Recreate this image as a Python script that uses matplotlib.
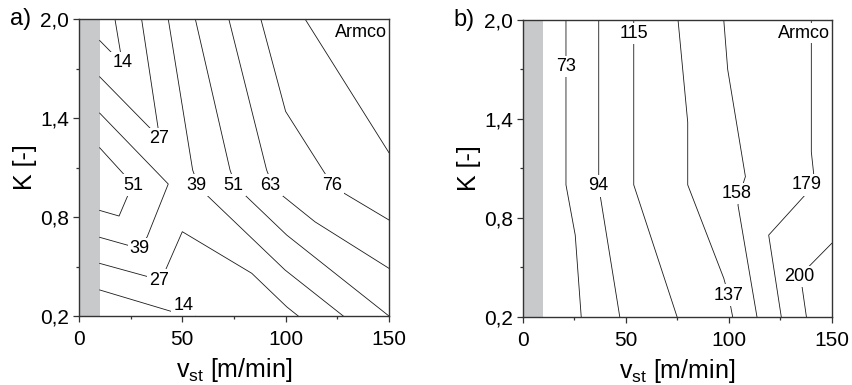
import matplotlib.pyplot as plt
import matplotlib as mpl

mpl.rcParams['font.family'] = ['Liberation Sans', 'DejaVu Sans']

# axis ticks
x_ticks = [0, 50, 100, 150]
x_minor = [25, 75, 125]
y_ticks = [0.2, 0.8, 1.4, 2.0]
y_minor = [0.5, 1.1, 1.7]
y_ticklabels = ['0,2', '0,8', '1,4', '2,0']
gray_band = (0, 10)

# panel a) contour lines (v_st, K)
a14_top = ([10, 21, 17.4], [1.87, 1.73, 2.0])
a27_top = ([10, 39, 30.3], [1.65, 1.28, 2.0])
a39_loop = ([10, 43.2, 33, 29, 10], [1.43, 1.0, 0.68, 0.61, 0.677])
a51_loop = ([10, 26, 19.4, 10], [1.22, 1.0, 0.806, 0.84])
a39_right = ([43.2, 55, 57.5, 61.8, 99.7, 127.9], [2.0, 1.085, 1.0, 0.933, 0.479, 0.2])
a51_right = ([56.3, 73.1, 75.5, 80.3, 100.5, 150], [2.0, 1.085, 1.0, 0.933, 0.691, 0.2])
a63_right = ([72.5, 90.8, 93.5, 98.1, 114.2, 150], [2.0, 1.085, 1.0, 0.933, 0.771, 0.489])
a76_right = ([88.0, 100, 119, 122.3, 127.1, 150], [2.0, 1.44, 1.065, 1.0, 0.953, 0.782])
a88_right = ([109.4, 150], [2.0, 1.19])
a27_low = ([10, 38.7, 41.9, 50, 83.6, 100.5, 106.1], [0.519, 0.42, 0.479, 0.711, 0.459, 0.256, 0.2])
a14_low = ([10, 45.2, 56], [0.358, 0.226, 0.2])
lines_a = [a14_top, a27_top, a39_loop, a51_loop, a39_right, a51_right,
           a63_right, a76_right, a88_right, a27_low, a14_low]

labels_a = ['14', '27', '51', '39', '39', '51', '63', '76', '27', '14']
labels_a_x = [21, 38.7, 26.1, 57.0, 29.4, 74.7, 92.7, 122.3, 38.7, 50.5]
labels_a_y = [1.735, 1.275, 0.994, 0.994, 0.61, 0.994, 0.994, 0.994, 0.418, 0.265]

# panel b) contour lines
b73 = ([21.0, 21.0, 25.5, 28.4], [2.0, 1.0, 0.695, 0.2])
b94 = ([36.9, 36.9, 37.7, 47.1], [2.0, 1.0, 0.928, 0.2])
b115 = ([53.9, 53.9, 74.9], [2.0, 1.0, 0.2])
b137 = ([75.4, 80.1, 80.1, 97.6, 99.9, 101.9], [2.0, 1.38, 1.0, 0.433, 0.33, 0.2])
b158 = ([97.6, 99.5, 108.1, 105.5, 104.5, 113.7], [2.0, 1.7, 1.05, 0.95, 0.877, 0.2])
b179 = ([140.1, 140.1, 141.3, 138.0, 137.2, 119.4, 125.5], [2.0, 1.2, 1.06, 1.0, 0.94, 0.695, 0.2])
b200 = ([150, 138.8, 134.0, 135.6, 137.7], [0.645, 0.503, 0.442, 0.382, 0.2])
lines_b = [b73, b94, b115, b137, b158, b179, b200]

labels_b = ['73', '94', '115', '137', '158', '179', '200']
labels_b_x = [21.0, 36.6, 53.9, 99.9, 104.0, 138.0, 134.0]
labels_b_y = [1.717, 0.993, 1.92, 0.331, 0.948, 1.0, 0.442]


def draw_panel(ax, lines, labels, lx, ly, letter):
    ax.axvspan(gray_band[0], gray_band[1], color='#c8c9cb', lw=0, zorder=0)
    for xs, ys in lines:
        ax.plot(xs, ys, color='#1a1a1a', lw=0.6, zorder=2)
    for t, x, y in zip(labels, lx, ly):
        ax.text(x, y, t, fontsize=13, ha='center', va='center', zorder=3,
                bbox=dict(boxstyle='square,pad=0.12', fc='white', ec='none'))
    ax.text(0.993, 0.955, 'Armco', transform=ax.transAxes, fontsize=13,
            ha='right', va='center', zorder=3,
            bbox=dict(boxstyle='square,pad=0.08', fc='white', ec='none'))
    ax.set_xlim(0, 150)
    ax.set_ylim(0.2, 2.0)
    ax.set_xticks(x_ticks)
    ax.set_xticks(x_minor, minor=True)
    ax.set_yticks(y_ticks)
    ax.set_yticks(y_minor, minor=True)
    ax.set_yticklabels(y_ticklabels)
    ax.tick_params(which='both', direction='out', top=False, right=False,
                   labelsize=15, color='#333333', width=0.9)
    ax.tick_params(which='major', length=4)
    ax.tick_params(axis='x', which='major', pad=6)
    ax.tick_params(axis='y', which='major', pad=3)
    ax.tick_params(which='minor', length=2.5)
    for s in ax.spines.values():
        s.set_linewidth(1.0)
        s.set_color('#333333')
        s.set_zorder(4)
    ax.set_xlabel(r'v$_{\mathregular{st}}$ [m/min]', fontsize=18, labelpad=5)
    ax.set_ylabel('K [-]', fontsize=18, labelpad=2)
    ax.text(-0.19, 1.0, letter, transform=ax.transAxes, fontsize=17,
            ha='center', va='center')


fig = plt.figure(figsize=(8.52, 3.85), dpi=100)
ax1 = fig.add_axes([0.0927, 0.1792, 0.3638, 0.7714])
ax2 = fig.add_axes([0.6135, 0.1774, 0.3627, 0.7706])

draw_panel(ax1, lines_a, labels_a, labels_a_x, labels_a_y, 'a)')
draw_panel(ax2, lines_b, labels_b, labels_b_x, labels_b_y, 'b)')

fig.savefig('out.png', dpi=100)
